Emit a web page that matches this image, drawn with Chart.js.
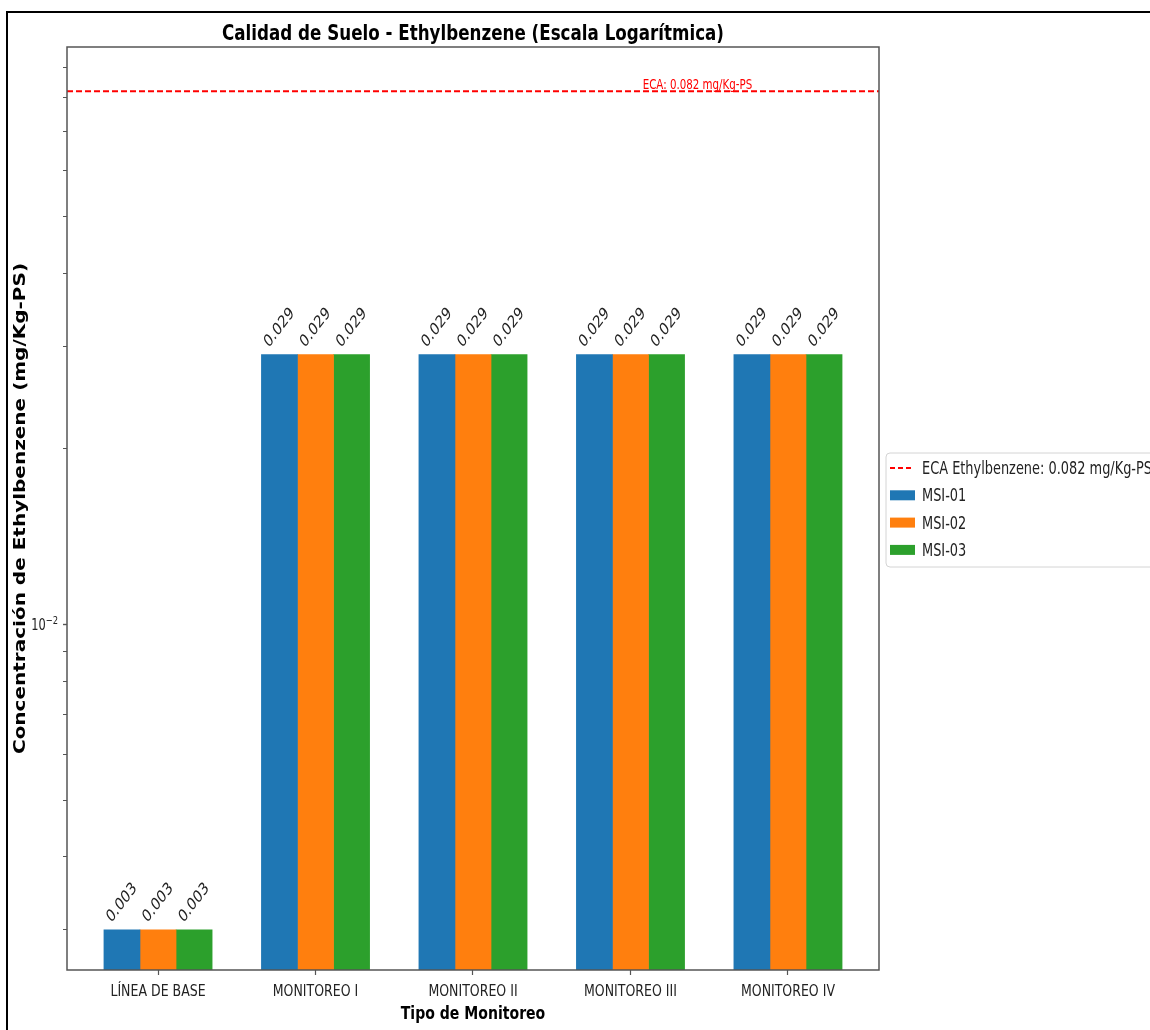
<!DOCTYPE html>
<html>
<head>
<meta charset="utf-8">
<script src="https://cdn.jsdelivr.net/npm/chart.js@4.4.1/dist/chart.umd.min.js"></script>
<style>
  body { margin: 0; background: #fff; }
  canvas { display: block; }
</style>
</head>
<body>
<canvas id="barChart" width="1150" height="1030"></canvas>
<script>
// data
const categories = ["LÍNEA DE BASE", "MONITOREO I", "MONITOREO II", "MONITOREO III", "MONITOREO IV"];
const seriesNames = ["MSI-01", "MSI-02", "MSI-03"];
const msi01 = [0.003, 0.029, 0.029, 0.029, 0.029];
const msi02 = [0.003, 0.029, 0.029, 0.029, 0.029];
const msi03 = [0.003, 0.029, 0.029, 0.029, 0.029];
const ecaValue = 0.082;
const ecaLegend = "ECA Ethylbenzene: 0.082 mg/Kg-PS";
const ecaText = "ECA: 0.082 mg/Kg-PS";
const yTicks = [0.003, 0.004, 0.005, 0.006, 0.007, 0.008, 0.009, 0.01,
  0.02, 0.03, 0.04, 0.05, 0.06, 0.07, 0.08, 0.09];
const yMin = 0.00256;
const yMax = 0.0976;

const seriesColors = ["#1f77b4", "#ff7f0e", "#2ca02c"];
const BAR_W = 0.229; // bar width in category units, bars sit side by side
const FONT = '"DejaVu Sans", sans-serif';
const SX = 0.76; // the picture is squeezed sideways

function drawText(ctx, text, x, y, o) {
  ctx.save();
  ctx.translate(x, y);
  ctx.scale(o.sx || SX, 1);
  if (o.rotate) ctx.rotate(o.rotate);
  ctx.font = o.font;
  ctx.fillStyle = o.color || "#000";
  ctx.textAlign = o.align || "center";
  ctx.textBaseline = o.baseline || "alphabetic";
  ctx.fillText(text, 0, 0);
  ctx.restore();
}

const allSeries = [msi01, msi02, msi03];
let barSets = allSeries.map((vals, s) => ({
  label: seriesNames[s],
  data: vals.map((v, i) => ({ x: i + (s - 1) * BAR_W, y: v })),
  backgroundColor: seriesColors[s],
  borderWidth: 0,
  grouped: false,
  categoryPercentage: 1.0,
  barPercentage: 1.0,
  xAxisID: "x",
}));

let ecaSet = {
  type: "line",
  label: ecaLegend,
  data: [{ x: 0, y: ecaValue }, { x: 1, y: ecaValue }],
  xAxisID: "x2",
  borderColor: "#ff0000",
  borderWidth: 2,
  borderDash: [6, 3],
  pointRadius: 0,
  fill: false,
};

const decor = {
  id: "decor",
  beforeDraw(chart) {
    const ctx = chart.ctx;
    ctx.save();
    ctx.fillStyle = "#fff";
    ctx.fillRect(0, 0, chart.width, chart.height);
    ctx.restore();
  },
  afterDatasetsDraw(chart) {
    // rotated value labels over each bar
    const ctx = chart.ctx;
    const f = "17px " + FONT;
    chart.data.datasets.forEach((ds, di) => {
      if (ds.type === "line") return;
      const meta = chart.getDatasetMeta(di);
      meta.data.forEach((bar, i) => {
        const txt = ds.data[i].y.toFixed(3);
        ctx.font = f;
        const m = ctx.measureText(txt);
        const h = m.actualBoundingBoxAscent + m.actualBoundingBoxDescent;
        const bh = (m.width + h) * Math.SQRT1_2;
        drawText(ctx, txt, bar.x, bar.y - 5 - bh / 2, {
          font: f, rotate: -Math.PI / 4, baseline: "middle", color: "#222",
        });
      });
    });
  },
  afterDraw(chart) {
    const ctx = chart.ctx;
    const a = chart.chartArea;
    const xs = chart.scales.x, ys = chart.scales.y, x2 = chart.scales.x2;

    // axes frame
    ctx.save();
    ctx.strokeStyle = "#555";
    ctx.lineWidth = 1.5;
    ctx.strokeRect(a.left, a.top, a.right - a.left, a.bottom - a.top);
    ctx.restore();

    // x tick labels
    xs.ticks.forEach(t => {
      drawText(ctx, categories[t.value], xs.getPixelForValue(t.value), 996, {
        font: "16.5px " + FONT, color: "#222",
      });
    });

    // y tick labels: only the powers of ten
    ys.ticks.forEach(t => {
      const e = Math.log10(t.value);
      if (Math.abs(e - Math.round(e)) > 1e-9) return;
      const py = ys.getPixelForValue(t.value);
      const sup = "\u2212" + Math.abs(Math.round(e));
      ctx.font = "15px " + FONT;
      const w1 = ctx.measureText("10").width;
      ctx.font = "11px " + FONT;
      const w2 = ctx.measureText(sup).width;
      const x0 = a.left - 9 - (w1 + w2) * SX;
      drawText(ctx, "10", x0, py + 5, { font: "15px " + FONT, align: "left", color: "#222" });
      drawText(ctx, sup, x0 + w1 * SX, py - 1, { font: "11px " + FONT, align: "left", color: "#222" });
    });

    // title and axis titles
    drawText(ctx, "Calidad de Suelo - Ethylbenzene (Escala Logarítmica)", (a.left + a.right) / 2, 39.5, {
      font: "bold 22px " + FONT,
    });
    drawText(ctx, "Tipo de Monitoreo", (a.left + a.right) / 2, 1019, {
      font: "bold 18.5px " + FONT,
    });
    drawText(ctx, "Concentración de Ethylbenzene (mg/Kg-PS)", 25, (a.top + a.bottom) / 2, {
      font: "bold 20px " + FONT, rotate: -Math.PI / 2,
    });

    // text over the ECA line
    drawText(ctx, ecaText, x2.getPixelForValue(0.709), ys.getPixelForValue(ecaValue) - 2, {
      font: "13.5px " + FONT, align: "left", color: "#ff0000",
    });

    // legend
    const lx = 886, ly = 453, lh = 114;
    ctx.save();
    ctx.beginPath();
    ctx.roundRect(lx, ly, chart.width - lx + 20, lh, 4);
    ctx.fillStyle = "rgba(255,255,255,0.9)";
    ctx.fill();
    ctx.strokeStyle = "#d4d4d4";
    ctx.lineWidth = 1;
    ctx.stroke();
    ctx.restore();
    const items = [ecaSet].concat(barSets);
    items.forEach((ds, k) => {
      const cy = 468 + k * 27.3;
      ctx.save();
      if (ds.type === "line") {
        ctx.strokeStyle = ds.borderColor;
        ctx.lineWidth = 2;
        ctx.setLineDash([5, 3]);
        ctx.beginPath();
        ctx.moveTo(890, cy);
        ctx.lineTo(914, cy);
        ctx.stroke();
      } else {
        ctx.fillStyle = ds.backgroundColor;
        ctx.fillRect(890, cy - 5, 25, 10);
      }
      ctx.restore();
      drawText(ctx, ds.label, 922, cy + 6, { font: "17px " + FONT, align: "left", color: "#222" });
    });

    // outer border of the picture
    ctx.save();
    ctx.strokeStyle = "#000";
    ctx.lineWidth = 2;
    ctx.beginPath();
    ctx.moveTo(7, chart.height);
    ctx.lineTo(7, 12);
    ctx.lineTo(chart.width, 12);
    ctx.stroke();
    ctx.restore();
  },
};

const ctx = document.getElementById("barChart").getContext("2d");
const myBarChart = new Chart(ctx, {
  type: "bar",
  data: { datasets: barSets.concat([ecaSet]) },
  options: {
    responsive: false,
    devicePixelRatio: 1,
    animation: false,
    layout: { padding: { left: 0, top: 47, right: 271, bottom: 0 } },
    plugins: {
      legend: { display: false },
      title: { display: false },
      tooltip: { enabled: false },
    },
    scales: {
      x: {
        type: "linear",
        min: -0.578,
        max: 4.578,
        offset: false,
        bounds: "data",
        afterBuildTicks: (scale) => { scale.ticks = categories.map((c, i) => ({ value: i })); },
        afterFit: (scale) => { scale.height = 60; },
        ticks: { display: false },
        grid: { display: true, offset: false, drawOnChartArea: false, drawTicks: true, tickLength: 5, tickColor: "#555", tickWidth: 1.2 },
        border: { display: false },
      },
      x2: {
        type: "linear",
        min: 0,
        max: 1,
        offset: false,
        display: false,
      },
      y: {
        type: "logarithmic",
        min: yMin,
        max: yMax,
        bounds: "data",
        afterBuildTicks: (scale) => { scale.ticks = yTicks.map(v => ({ value: v })); },
        afterFit: (scale) => { scale.width = 67; },
        ticks: { display: false, autoSkip: false },
        grid: {
          display: true, drawOnChartArea: false, drawTicks: true, tickLength: 4, tickColor: "#555",
          tickWidth: (c) => (c.tick && c.tick.value === 0.01 ? 1.4 : 1),
        },
        border: { display: false },
      },
    },
  },
  plugins: [decor],
});
</script>
</body>
</html>
